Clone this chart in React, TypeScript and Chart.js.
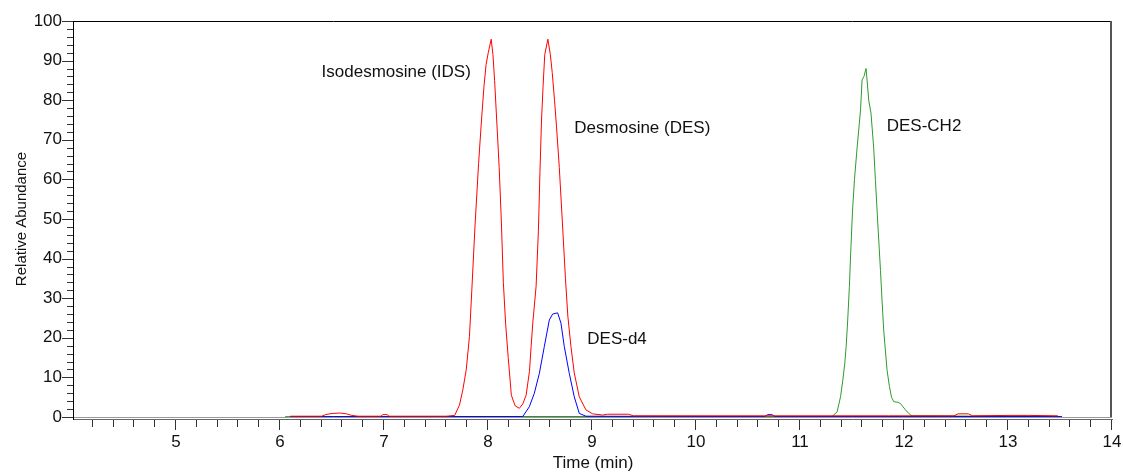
import React, { useEffect, useRef } from 'react';
import { Chart, registerables } from 'chart.js';

Chart.register(...registerables);

// ---------- data ----------
const xTickValues = [5, 6, 7, 8, 9, 10, 11, 12, 13, 14];
const xTickLabels = ['5', '6', '7', '8', '9', '10', '11', '12', '13', '14'];
const yTickLabels = ['0', '10', '20', '30', '40', '50', '60', '70', '80', '90', '100'];

// Isodesmosine / Desmosine trace (red)
const redTime = [
  6.10, 6.40, 6.44, 6.50, 6.58, 6.64, 6.69, 6.75, 6.97, 6.99, 7.03, 7.05, 7.60, 7.68,
  7.726, 7.758, 7.791, 7.822, 7.845, 7.876, 7.910, 7.938, 7.962, 7.982, 8.003, 8.031,
  8.048, 8.064, 8.084, 8.108, 8.128, 8.148, 8.170, 8.195, 8.225, 8.262, 8.302, 8.335,
  8.367, 8.399, 8.415, 8.432, 8.463, 8.485, 8.500, 8.515, 8.530, 8.546, 8.576, 8.600,
  8.618, 8.640, 8.660, 8.686, 8.716, 8.745, 8.768, 8.798, 8.830, 8.878, 8.942, 9.006,
  9.102, 9.15, 9.35, 9.40, 11.85, 12.05, 12.48, 12.52, 12.62, 12.66, 13.02, 13.20, 13.48,
];
const redAbund = [
  0.2, 0.2, 0.6, 0.9, 1.0, 0.8, 0.4, 0.2, 0.2, 0.6, 0.6, 0.2, 0.2, 0.4,
  3.0, 6.8, 11.9, 20.3, 32.1, 48.5, 64.0, 75.0, 83.5, 89.0, 92.0, 95.4,
  91.5, 85.0, 75.0, 63.0, 50.0, 34.0, 23.5, 15.0, 5.5, 2.8, 2.2, 3.3,
  5.5, 11.5, 17.8, 24.0, 33.0, 47.0, 62.0, 75.0, 83.5, 91.5, 95.4, 91.5,
  87.0, 80.0, 73.0, 63.0, 49.0, 35.0, 25.5, 17.8, 11.1, 5.1, 1.8, 0.8,
  0.5, 0.7, 0.7, 0.3, 0.3, 0.3, 0.3, 0.8, 0.8, 0.3, 0.4, 0.4, 0.3,
];

// DES-d4 trace (blue)
const blueTime = [
  6.10, 8.334, 8.398, 8.446, 8.494, 8.542, 8.590, 8.622, 8.670, 8.702, 8.734, 8.782,
  8.830, 8.878, 8.942, 10.66, 10.69, 10.73, 10.76, 13.52,
];
const blueAbund = [
  0.1, 0.1, 2.6, 6.0, 11.0, 17.8, 24.5, 26.0, 26.3, 23.7, 17.8, 11.0,
  5.1, 0.9, 0.2, 0.1, 0.6, 0.6, 0.1, 0.1,
];

// DES-CH2 trace (green)
const greenTime = [
  6.05, 11.309, 11.357, 11.39, 11.412, 11.431, 11.444, 11.458, 11.475, 11.490, 11.505,
  11.524, 11.549, 11.565, 11.582, 11.597, 11.615, 11.635, 11.645, 11.661, 11.683, 11.709,
  11.725, 11.748, 11.774, 11.796, 11.805, 11.821, 11.837, 11.860, 11.880, 11.901, 11.940,
  11.966, 11.990, 12.014, 12.050, 12.077, 13.50,
];
const greenAbund = [
  0.1, 0.1, 1.3, 5.1, 9.3, 13.6, 17.8, 24.0, 33.0, 43.0, 52.0,
  60.0, 67.9, 72.5, 77.5, 85.1, 86.0, 88.0, 85.1, 80.0, 76.7, 67.9,
  60.0, 49.0, 37.0, 26.0, 22.0, 16.9, 11.9, 7.7, 5.0, 3.9, 3.7,
  3.4, 2.6, 1.8, 0.8, 0.3, 0.1,
];

// baseline traces
const magentaTime = [11.31, 11.85];
const magentaAbund = [0.1, 0.1];
const darkGreenTime = [6.10, 13.50];
const darkGreenAbund = [0, 0];

// peak annotations
const labelText = ['Isodesmosine (IDS)', 'Desmosine (DES)', 'DES-d4', 'DES-CH2'];
const labelTime = [6.40, 8.83, 8.955, 11.834];
const labelAbund = [87.1, 73.0, 19.7, 73.5];

// ---------- helpers ----------
const FONT = "'Liberation Sans', Arial, sans-serif";
const pts = (t: number[], v: number[]) => t.map((x, i) => ({ x, y: v[i] }));

const framePlugin = {
  id: 'frame',
  beforeDatasetsDraw(chart: any) {
    const { ctx, chartArea } = chart;
    const { left, top, right, bottom } = chartArea;
    ctx.save();
    ctx.lineWidth = 1;
    ctx.strokeStyle = '#000';
    ctx.beginPath();
    ctx.moveTo(left, top + 0.5);
    ctx.lineTo(right, top + 0.5);
    ctx.stroke();
    ctx.strokeStyle = '#555';
    ctx.lineWidth = 2;
    ctx.beginPath();
    ctx.moveTo(right - 1, top);
    ctx.lineTo(right - 1, bottom + 1);
    ctx.stroke();
    ctx.strokeStyle = '#999';
    ctx.lineWidth = 1;
    ctx.beginPath();
    ctx.moveTo(left, bottom + 0.5);
    ctx.lineTo(right, bottom + 0.5);
    ctx.stroke();
    ctx.restore();
  },
  afterDraw(chart: any) {
    const { ctx, chartArea, scales } = chart;
    const { left, top, right, bottom } = chartArea;
    const xs = scales.x;
    const ys = scales.y;
    ctx.save();
    // x axis line
    ctx.strokeStyle = '#666';
    ctx.lineWidth = 1;
    ctx.beginPath();
    ctx.moveTo(left, bottom + 2.5);
    ctx.lineTo(right + 1, bottom + 2.5);
    ctx.stroke();
    // y axis line
    ctx.strokeStyle = '#000';
    ctx.beginPath();
    ctx.moveTo(left - 0.5, top);
    ctx.lineTo(left - 0.5, bottom + 3);
    ctx.stroke();
    // x ticks (minor every 0.2, major every 1)
    ctx.strokeStyle = '#333';
    ctx.beginPath();
    for (let i = 21; i <= 70; i++) {
      const px = Math.round(xs.getPixelForValue(i / 5)) - 0.5;
      const len = i % 5 === 0 ? 10 : 7;
      ctx.moveTo(px, bottom + 3);
      ctx.lineTo(px, bottom + 3 + len);
    }
    ctx.stroke();
    // y ticks (minor every 2, major every 10)
    ctx.beginPath();
    for (let i = 0; i <= 50; i++) {
      const py = Math.round(ys.getPixelForValue(i * 2)) + 0.5;
      const len = i % 5 === 0 ? 11 : 6;
      ctx.moveTo(left - 1, py);
      ctx.lineTo(left - 1 - len, py);
    }
    ctx.stroke();
    ctx.restore();
  },
};

const labelPlugin = {
  id: 'peakLabels',
  afterDatasetsDraw(chart: any) {
    const { ctx, scales } = chart;
    ctx.save();
    ctx.fillStyle = '#111';
    ctx.font = `17px ${FONT}`;
    ctx.textAlign = 'left';
    ctx.textBaseline = 'middle';
    labelText.forEach((txt, i) => {
      ctx.fillText(txt, scales.x.getPixelForValue(labelTime[i]), scales.y.getPixelForValue(labelAbund[i]));
    });
    ctx.restore();
  },
};

export default function App() {
  const ref = useRef<HTMLCanvasElement>(null);
  useEffect(() => {
    const canvas = ref.current;
    if (!canvas) return;
    const line = (label: string, t: number[], v: number[], color: string, width = 1, order = 0) => ({
      label,
      data: pts(t, v),
      borderColor: color,
      backgroundColor: color,
      borderWidth: width,
      pointRadius: 0,
      tension: 0,
      fill: false,
      order,
    });
    const chart = new Chart(canvas, {
      type: 'line',
      data: {
        datasets: [
          line('darkgreen', darkGreenTime, darkGreenAbund, '#006400', 2, 5),
          line('magenta', magentaTime, magentaAbund, '#cc1199', 1, 4),
          line('DES-CH2', greenTime, greenAbund, '#2e9a2e', 1, 3),
          line('DES-d4', blueTime, blueAbund, '#0000ff', 1, 2),
          line('IDS/DES', redTime, redAbund, '#ff0000', 1, 1),
        ] as any,
      },
      options: {
        responsive: false,
        animation: false,
        layout: { padding: { top: 21, right: 11, left: 0, bottom: 0 } },
        plugins: {
          legend: { display: false },
          tooltip: { enabled: false },
          title: { display: false },
        },
        scales: {
          x: {
            type: 'linear',
            min: 4.02,
            max: 14,
            afterFit: (s: any) => { s.height = 58; s.paddingLeft = 0; s.paddingRight = 0; },
            afterBuildTicks: (s: any) => { s.ticks = xTickValues.map((value) => ({ value })); },
            grid: { display: false, drawTicks: false },
            border: { display: false },
            ticks: {
              autoSkip: false,
              maxRotation: 0,
              padding: 15,
              color: '#111',
              font: { family: FONT, size: 17 },
              callback: (_v: any, i: number) => xTickLabels[i],
            },
            title: {
              display: true,
              text: 'Time (min)',
              color: '#111',
              font: { family: FONT, size: 17 },
              padding: { top: 0, bottom: 1 },
            },
          },
          y: {
            type: 'linear',
            min: 0,
            max: 100,
            afterFit: (s: any) => { s.width = 74; s.paddingTop = 0; s.paddingBottom = 0; },
            grid: { display: false, drawTicks: false },
            border: { display: false },
            ticks: {
              stepSize: 10,
              autoSkip: false,
              padding: 12,
              color: '#111',
              font: { family: FONT, size: 17 },
              callback: (_v: any, i: number) => yTickLabels[i],
            },
            title: {
              display: true,
              text: 'Relative Abundance',
              color: '#111',
              font: { family: FONT, size: 15 },
              padding: { top: 13, bottom: 0 },
            },
          },
        },
      } as any,
      plugins: [framePlugin, labelPlugin],
    });
    return () => chart.destroy();
  }, []);
  return (
    <div style={{ position: 'absolute', left: 0, top: 0, width: 1123, height: 475, background: '#fff' }}>
      <canvas ref={ref} width={1123} height={475} style={{ display: 'block' }} />
    </div>
  );
}
